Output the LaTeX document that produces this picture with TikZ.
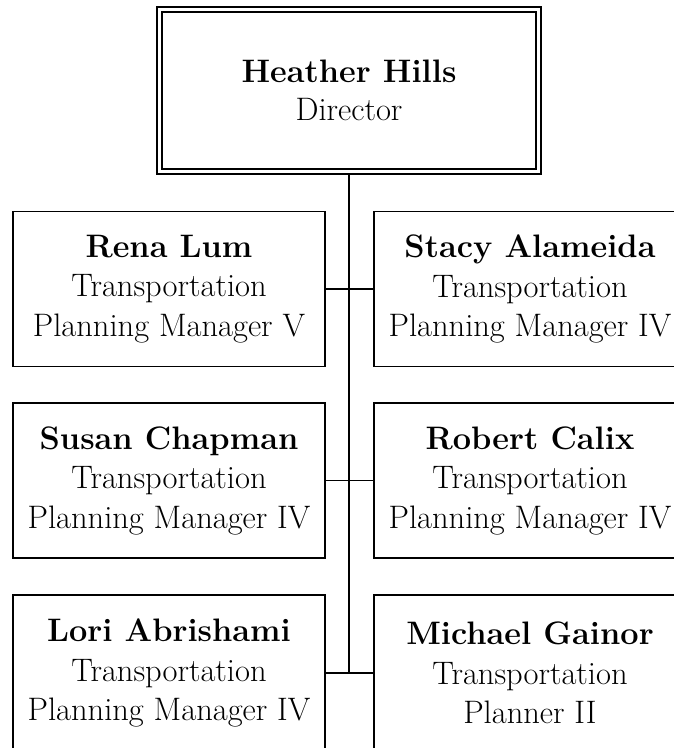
\documentclass[tikz,border=0pt]{standalone}
\begin{document}
\begin{tikzpicture}[x=1pt,y=-1pt,
  box/.style={draw, line width=1.8pt, minimum width=312pt, minimum height=155pt,
    align=center, inner sep=0pt, font=\fontsize{32.5}{39.5}\selectfont},
  topbox/.style={draw, line width=1.6pt, double, double distance=3.4pt,
    minimum width=379pt, minimum height=162pt, align=center, inner sep=0pt,
    font=\fontsize{32.5}{38}\selectfont},
  link/.style={line width=1.8pt}]
\useasboundingbox (0,0) rectangle (674,748);
\clip (0,0) rectangle (674,748);
\node[topbox] (top) at (349,90.5) {\textbf{Heather Hills}\\Director};
\node[box] (l1) at (169,289) {\textbf{Rena Lum}\\Transportation\\Planning Manager V};
\node[box] (r1) at (530,289) {\textbf{Stacy Alameida}\\Transportation\\Planning Manager IV};
\node[box] (l2) at (169,480.5) {\textbf{Susan Chapman}\\Transportation\\Planning Manager IV};
\node[box] (r2) at (530,480.5) {\textbf{Robert Calix}\\Transportation\\Planning Manager IV};
\node[box, minimum height=156pt] (l3) at (169,673) {\textbf{Lori Abrishami}\\Transportation\\Planning Manager IV};
\node[box, minimum height=156pt] (r3) at (530,673) {\textbf{Michael Gainor}\\Transportation\\Planner II};
\draw[link] ([yshift=-2.5pt]top.south) -- (top.south |- l3.east);
\draw[link] (l1.east) -- (r1.west);
\draw[link] (l2.east) -- (r2.west);
\draw[link] (l3.east) -- (r3.west);
\end{tikzpicture}
\end{document}
